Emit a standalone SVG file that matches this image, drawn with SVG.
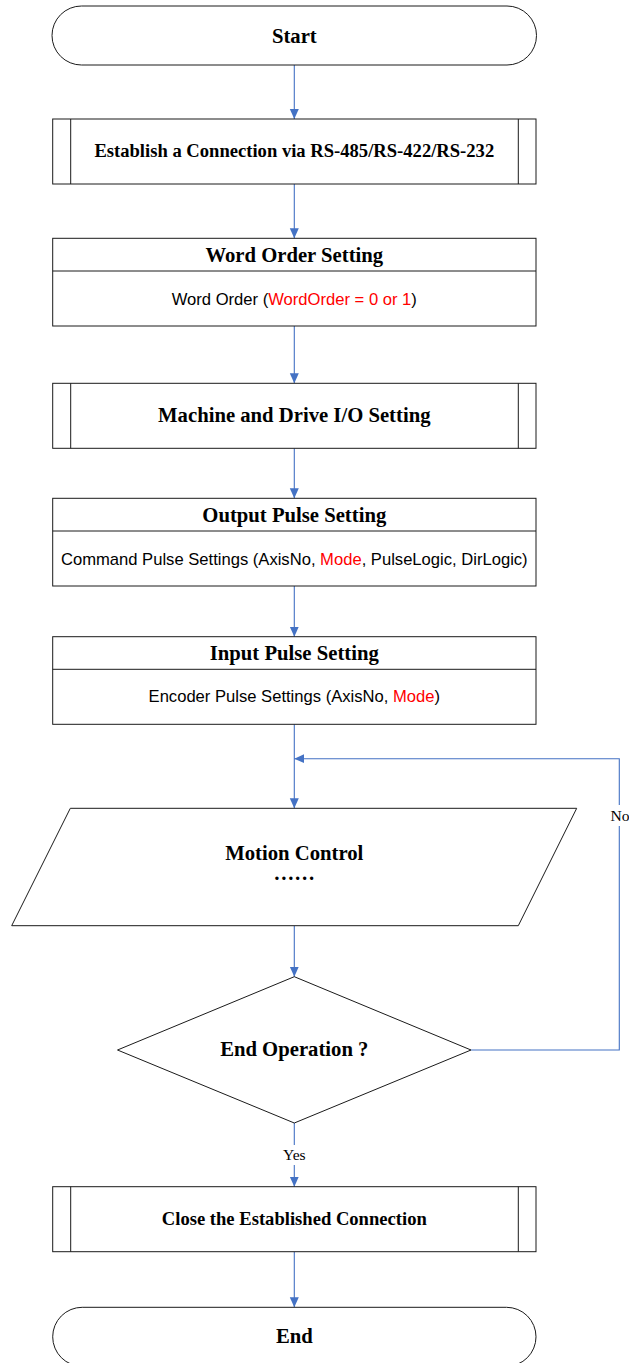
<svg xmlns="http://www.w3.org/2000/svg" width="629" height="1363" viewBox="0 0 629 1363">
  <defs>
    <marker id="arrow" viewBox="0 0 10 12" refX="10" refY="6" markerWidth="10" markerHeight="12" markerUnits="userSpaceOnUse" orient="auto">
      <path d="M0,1.5 L10,6 L0,10.5 Z" fill="#4472C4"/>
    </marker>
    <style>
      .shape { fill: #ffffff; stroke: #1a1a1a; stroke-width: 1; }
      .inner { fill: none; stroke: #1a1a1a; stroke-width: 1; }
      .conn { fill: none; stroke: #4472C4; stroke-width: 1.1; }
      .head { font-family: "Liberation Serif", "Times New Roman", serif; font-weight: bold; font-size: 20.7px; fill: #000; text-anchor: middle; }
      .sub { font-family: "Liberation Serif", "Times New Roman", serif; font-weight: bold; font-size: 18.6px; fill: #000; text-anchor: middle; }
      .body { font-family: "Liberation Sans", Arial, sans-serif; font-size: 16.6px; fill: #000; text-anchor: middle; }
      .red { fill: #FF0000; }
      .lbl { font-family: "Liberation Serif", "Times New Roman", serif; font-size: 15.6px; fill: #000; text-anchor: middle; }
    </style>
  </defs>
  <rect width="629" height="1363" fill="#ffffff"/>

  <!-- connectors -->
  <g id="connectors">
    <path class="conn" d="M294.3,65 V119" marker-end="url(#arrow)"/>
    <path class="conn" d="M294.3,184 V238.3" marker-end="url(#arrow)"/>
    <path class="conn" d="M294.3,326 V383.3" marker-end="url(#arrow)"/>
    <path class="conn" d="M294.3,448.3 V498.3" marker-end="url(#arrow)"/>
    <path class="conn" d="M294.3,586 V636.7" marker-end="url(#arrow)"/>
    <path class="conn" d="M294.3,724.3 V808.3" marker-end="url(#arrow)"/>
    <path class="conn" d="M294.3,925.7 V976.7" marker-end="url(#arrow)"/>
    <!-- Yes branch, broken around its label -->
    <path class="conn" d="M294.3,1123 V1145"/>
    <path class="conn" d="M294.3,1165 V1186.7" marker-end="url(#arrow)"/>
    <path class="conn" d="M294.3,1251.7 V1307.3" marker-end="url(#arrow)"/>
    <!-- No branch: loop back above Motion Control, broken around its label -->
    <path class="conn" d="M471,1050 H619.3 V826"/>
    <path class="conn" d="M619.3,805 V758.7 H294.3" marker-end="url(#arrow)"/>
    <text class="lbl" x="294.3" y="1160">Yes</text>
    <text class="lbl" x="620" y="820.5">No</text>
  </g>

  <!-- Start terminator -->
  <g id="start">
    <rect class="shape" x="52" y="6" width="484.5" height="59" rx="29.5" ry="29.5"/>
    <text class="head" x="294.3" y="42.7">Start</text>
  </g>

  <!-- predefined process: connect -->
  <g id="connect">
    <rect class="shape" x="52.7" y="119" width="483.3" height="65"/>
    <line class="inner" x1="70.7" y1="119" x2="70.7" y2="184"/>
    <line class="inner" x1="518.3" y1="119" x2="518.3" y2="184"/>
    <text class="sub" x="294.3" y="157.3">Establish a Connection via RS-485/RS-422/RS-232</text>
  </g>

  <!-- word order -->
  <g id="word-order">
    <rect class="shape" x="52.7" y="238.3" width="483.3" height="87.7"/>
    <line class="inner" x1="52.7" y1="271" x2="536" y2="271"/>
    <text class="head" x="294.3" y="261.7">Word Order Setting</text>
    <text class="body" x="294.3" y="304.7">Word Order (<tspan class="red">WordOrder = 0 or 1</tspan>)</text>
  </g>

  <!-- predefined process: machine and drive I/O -->
  <g id="machine-io">
    <rect class="shape" x="52.7" y="383.3" width="483.3" height="65"/>
    <line class="inner" x1="70.7" y1="383.3" x2="70.7" y2="448.3"/>
    <line class="inner" x1="518.3" y1="383.3" x2="518.3" y2="448.3"/>
    <text class="head" x="294.3" y="421.7">Machine and Drive I/O Setting</text>
  </g>

  <!-- output pulse -->
  <g id="output-pulse">
    <rect class="shape" x="52.7" y="498.3" width="483.3" height="87.7"/>
    <line class="inner" x1="52.7" y1="531" x2="536" y2="531"/>
    <text class="head" x="294.3" y="521.7">Output Pulse Setting</text>
    <text class="body" x="294.3" y="565">Command Pulse Settings (AxisNo, <tspan class="red">Mode</tspan>, PulseLogic, DirLogic)</text>
  </g>

  <!-- input pulse -->
  <g id="input-pulse">
    <rect class="shape" x="52.7" y="636.7" width="483.3" height="87.6"/>
    <line class="inner" x1="52.7" y1="669.3" x2="536" y2="669.3"/>
    <text class="head" x="294.3" y="660">Input Pulse Setting</text>
    <text class="body" x="294.3" y="701.7">Encoder Pulse Settings (AxisNo, <tspan class="red">Mode</tspan>)</text>
  </g>

  <!-- data: motion control -->
  <g id="motion-control">
    <polygon class="shape" points="70.3,808.3 576.7,808.3 518.3,925.7 11.7,925.7"/>
    <text class="head" x="294.3" y="860">Motion Control</text>
    <text class="head" x="294.3" y="880" font-weight="normal" font-size="19px">……</text>
  </g>

  <!-- decision -->
  <g id="end-operation">
    <polygon class="shape" points="294.3,976.7 471,1050 294.3,1123 117.5,1050"/>
    <text class="head" x="294.3" y="1056">End Operation ?</text>
  </g>

  <!-- predefined process: close -->
  <g id="close">
    <rect class="shape" x="52.7" y="1186.7" width="483.3" height="65"/>
    <line class="inner" x1="70.7" y1="1186.7" x2="70.7" y2="1251.7"/>
    <line class="inner" x1="518.3" y1="1186.7" x2="518.3" y2="1251.7"/>
    <text class="sub" x="294.3" y="1225">Close the Established Connection</text>
  </g>

  <!-- End terminator -->
  <g id="end">
    <rect class="shape" x="52.7" y="1307.3" width="483.3" height="59" rx="29.5" ry="29.5"/>
    <text class="head" x="294.3" y="1342.7">End</text>
  </g>
</svg>
